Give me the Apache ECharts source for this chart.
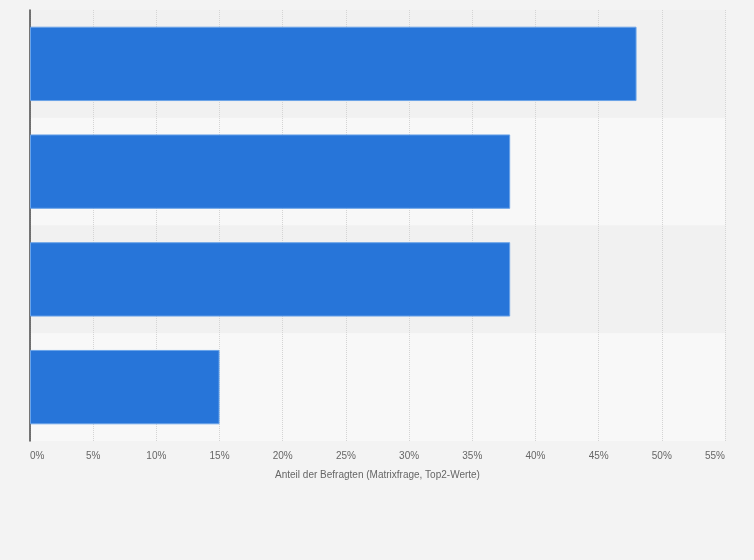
<!DOCTYPE html>
<html>
<head>
<meta charset="utf-8">
<script src="https://cdn.jsdelivr.net/npm/echarts@6/dist/echarts.min.js"></script>
<style>
  html, body { margin: 0; padding: 0; background: #f3f3f3; }
  #chart { width: 754px; height: 560px; }
</style>
</head>
<body>
<div id="chart"></div>
<script>
// categories are not labelled in the picture
var categories = ["A", "B", "C", "D"];
var values = [48, 38, 38, 15];
var axisTitle = "Anteil der Befragten (Matrixfrage, Top2-Werte)";

var chart = echarts.init(document.getElementById("chart"));
chart.setOption({
    backgroundColor: "#f3f3f3",
    textStyle: { fontFamily: "Liberation Sans, Arial, sans-serif" },
    grid: { left: 30, right: 29, top: 10, bottom: 119, containLabel: false },
    xAxis: {
        type: "value",
        min: 0,
        max: 55,
        interval: 5,
        name: axisTitle,
        nameLocation: "middle",
        nameGap: 29,
        nameTextStyle: { color: "#666", fontSize: 10 },
        axisLine: { show: false },
        axisTick: { show: false },
        axisLabel: {
            color: "#666",
            fontSize: 10,
            margin: 10,
            formatter: "{value}%",
            alignMinLabel: "left",
            alignMaxLabel: "right"
        },
        splitLine: { show: true, lineStyle: { color: "#d4d4d4", type: "dotted", width: 1 } }
    },
    yAxis: {
        type: "category",
        data: categories,
        inverse: true,
        axisLine: { show: true, lineStyle: { color: "#4a4a4a", width: 1.5 } },
        axisTick: { show: false },
        axisLabel: { show: false },
        splitArea: { show: true, areaStyle: { color: ["#f1f1f1", "#f8f8f8"] } }
    },
    series: [{
        type: "bar",
        data: values,
        barCategoryGap: "31%",
        itemStyle: { color: "#2775d9", borderColor: "#6aa3e8", borderWidth: 1 },
        silent: true
    }]
});
</script>
</body>
</html>
